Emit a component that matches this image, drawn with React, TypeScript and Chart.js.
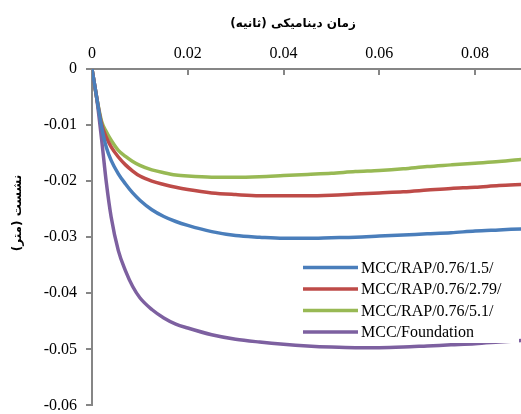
import { useEffect, useRef } from "react";
import { Chart, registerables } from "chart.js";

Chart.register(...registerables);

// ---- Data ----
const times = [
  0, 0.001, 0.002, 0.003, 0.004, 0.0055, 0.007, 0.0085, 0.01, 0.0125, 0.015,
  0.0175, 0.02, 0.025, 0.03, 0.035, 0.04, 0.045, 0.05, 0.055, 0.06, 0.065,
  0.07, 0.075, 0.08, 0.085, 0.09,
];

const seriesLabels = [
  "MCC/RAP/0.76/1.5/",
  "MCC/RAP/0.76/2.79/",
  "MCC/RAP/0.76/5.1/",
  "MCC/Foundation",
];

const rap15Values = [
  0, -0.0052, -0.0103, -0.014, -0.0163, -0.0187, -0.0205, -0.0221, -0.0234,
  -0.0251, -0.0263, -0.0272, -0.0279, -0.029, -0.0297, -0.03, -0.0302,
  -0.0302, -0.0301, -0.03, -0.0298, -0.0296, -0.0294, -0.0292, -0.0289,
  -0.0287, -0.0285,
];

const rap279Values = [
  0, -0.0052, -0.0098, -0.0122, -0.0139, -0.0157, -0.0171, -0.0182, -0.0191,
  -0.02, -0.0206, -0.0211, -0.0215, -0.0221, -0.0224, -0.0226, -0.0226,
  -0.0226, -0.0225, -0.0223, -0.0221, -0.0219, -0.0216, -0.0213, -0.0211,
  -0.0208, -0.0206,
];

const rap51Values = [
  0, -0.0052, -0.0093, -0.0112, -0.0127, -0.0145, -0.0156, -0.0165, -0.0172,
  -0.018, -0.0185, -0.0189, -0.0191, -0.0193, -0.0193, -0.0192, -0.019,
  -0.0188, -0.0186, -0.0183, -0.0181, -0.0178, -0.0174, -0.0171, -0.0168,
  -0.0165, -0.0161,
];

const foundationValues = [
  0, -0.0053, -0.0125, -0.0203, -0.0264, -0.0324, -0.036, -0.0388, -0.0408,
  -0.0429, -0.0444, -0.0455, -0.0462, -0.0474, -0.0482, -0.0487, -0.0491,
  -0.0494, -0.0496, -0.0497, -0.0497, -0.0496, -0.0494, -0.0492, -0.049,
  -0.0487, -0.0484,
];

const seriesColors = ["#4a7ebb", "#be4b48", "#98b954", "#7d60a0"];

const xTitle = "زمان دینامیکی (ثانیه)";
const yTitle = "نشست (متر)";

const AXIS_COLOR = "#868686";

const fmt = (v: number) => {
  const n = Number(Number(v).toFixed(4));
  return n === 0 ? "0" : String(n);
};

const overlayPlugin = {
  id: "overlay",
  afterDraw(chart: any) {
    const ctx = chart.ctx as CanvasRenderingContext2D;
    const xs = chart.scales.x;
    const area = chart.chartArea;
    ctx.save();
    // inner tick marks on the top axis
    ctx.strokeStyle = AXIS_COLOR;
    ctx.lineWidth = 2;
    xs.ticks.forEach((t: any) => {
      if (t.value === 0) return;
      const px = Math.round(xs.getPixelForValue(t.value));
      ctx.beginPath();
      ctx.moveTo(px, area.top);
      ctx.lineTo(px, area.top + 6);
      ctx.stroke();
    });

    // axis titles
    ctx.fillStyle = "#000";
    ctx.font = "bold 12px 'DejaVu Sans'";
    ctx.textAlign = "center";
    ctx.textBaseline = "middle";
    (ctx as any).direction = "rtl";
    ctx.fillText(xTitle, area.left + 201, 24);
    ctx.save();
    ctx.translate(17.5, 213);
    ctx.rotate(-Math.PI / 2);
    ctx.fillText(yTitle, 0, 0);
    ctx.restore();
    (ctx as any).direction = "ltr";

    // legend
    const lx = 303;
    const ly = 267.5;
    const rowH = 21.5;
    ctx.fillStyle = "#ffffff";
    ctx.fillRect(lx - 4, ly - 11, 220, rowH * 3 + 22);
    ctx.font = "16px 'Liberation Serif'";
    ctx.textAlign = "left";
    ctx.textBaseline = "middle";
    chart.data.datasets.forEach((ds: any, i: number) => {
      const y = ly + i * rowH;
      ctx.strokeStyle = ds.borderColor;
      ctx.lineWidth = 3.5;
      ctx.beginPath();
      ctx.moveTo(lx, y);
      ctx.lineTo(lx + 55, y);
      ctx.stroke();
      ctx.fillStyle = "#000";
      ctx.fillText(ds.label, lx + 58, y + 1);
    });
    ctx.restore();
  },
};

export default function App() {
  const ref = useRef<HTMLCanvasElement | null>(null);

  useEffect(() => {
    if (!ref.current) return;
    Chart.defaults.font.family = "'Liberation Serif', serif";
    Chart.defaults.font.size = 16;
    Chart.defaults.color = "#000";
    const valueSets = [rap15Values, rap279Values, rap51Values, foundationValues];
    const chart = new Chart(ref.current, {
      type: "line",
      data: {
        datasets: seriesLabels.map((label, i) => ({
          label,
          data: times.map((t, j) => ({ x: t, y: valueSets[i][j] })),
          borderColor: seriesColors[i],
          backgroundColor: seriesColors[i],
          borderWidth: 3.5,
          pointRadius: 0,
          cubicInterpolationMode: "monotone" as const,
          fill: false,
        })),
      },
      options: {
        animation: false,
        responsive: false,
        layout: { padding: { left: 0, right: 0, top: 0, bottom: 15 } },
        plugins: {
          legend: { display: false },
          tooltip: { enabled: false },
        },
        scales: {
          x: {
            type: "linear",
            position: "top",
            min: 0,
            max: 0.0896,
            ticks: {
              stepSize: 0.02,
              includeBounds: false,
              padding: 6,
              maxRotation: 0,
              callback: (v: any) => fmt(v),
              font: { size: 16 },
            },
            grid: { display: false, drawTicks: false },
            border: { display: true, color: AXIS_COLOR, width: 2 },
            afterFit: (s: any) => {
              s.height = 69;
            },
          },
          y: {
            type: "linear",
            min: -0.06,
            max: 0,
            ticks: {
              stepSize: 0.01,
              padding: 9,
              callback: (v: any) => fmt(v),
              font: { size: 16 },
            },
            grid: {
              drawOnChartArea: false,
              drawTicks: true,
              tickLength: 6,
              color: AXIS_COLOR,
              lineWidth: 2,
            },
            border: { display: true, color: AXIS_COLOR, width: 2 },
            afterFit: (s: any) => {
              s.width = 92;
            },
          },
        },
      },
      plugins: [overlayPlugin],
    });
    return () => chart.destroy();
  }, []);

  return (
    <div
      style={{
        position: "fixed",
        left: 0,
        top: 0,
        width: 521,
        height: 414,
        overflow: "hidden",
        background: "#fff",
      }}
    >
      <canvas ref={ref} width={521} height={424} style={{ display: "block" }} />
    </div>
  );
}
